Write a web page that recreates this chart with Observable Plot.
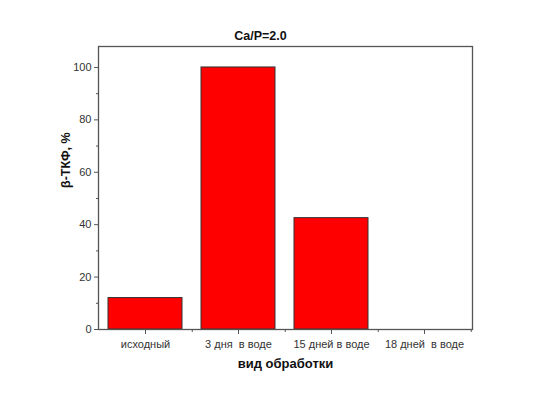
<!DOCTYPE html>
<html><head><meta charset="utf-8">
<script src="https://cdn.jsdelivr.net/npm/d3@7"></script>
<script src="https://cdn.jsdelivr.net/npm/@observablehq/plot@0.6"></script>
<style>body{margin:0;background:#fff}</style>
</head><body><div id="chart"></div>
<script>
const categories = ["исходный", "3 дня  в воде", "15 дней в воде", "18 дней  в воде"];
const values = [12, 100, 42.5, 0];
const yMajorTicks = [0, 20, 40, 60, 80, 100];
const yMinorTicks = [10, 30, 50, 70, 90];
const title = "Ca/P=2.0";
const xLabel = "вид обработки";
const yLabel = "β-ТКФ, %";

const data = categories.map((c, i) => ({cat: c, value: values[i]}));
const W = 548, H = 395, mL = 98, mR = 76, mT = 46, mB = 66;
const halfBand = (W - mL - mR) / categories.length / 2;
const axisColor = "#555";
const font = "Liberation Sans, Arial, sans-serif";

const chart = Plot.plot({
  width: W, height: H,
  marginLeft: mL, marginRight: mR, marginTop: mT, marginBottom: mB,
  style: {fontFamily: font, fontSize: "11px", color: "#333", background: "#fff"},
  x: {domain: categories, paddingInner: 0.2, paddingOuter: 0.1, label: null},
  y: {domain: [0, 108], label: null},
  marks: [
    Plot.barY(data, {x: "cat", y: "value", fill: "#ff0000", stroke: "#333", strokeWidth: 1}),
    Plot.frame({stroke: axisColor, strokeWidth: 1.3}),
    Plot.axisY({ticks: yMajorTicks, tickSize: 4, tickPadding: 3, stroke: axisColor, fill: "#333", fontSize: 11}),
    Plot.axisY({ticks: yMinorTicks, tickSize: 2, text: null, stroke: axisColor}),
    Plot.axisX({tickSize: 5, tickPadding: 6, stroke: axisColor, fill: "#333", fontSize: 11}),
    Plot.ruleX(categories, {x: d => d, y1: 0, y2: 0, dx: halfBand, insetBottom: -3, stroke: axisColor}),
    Plot.text([title], {frameAnchor: "top", dx: -25, dy: -15, fontWeight: "bold", fontSize: 12.5, fill: "#111"}),
    Plot.text([xLabel], {frameAnchor: "bottom", dy: 38, fontWeight: "bold", fontSize: 13, fill: "#111"}),
    Plot.text([yLabel], {frameAnchor: "left", dx: -33, rotate: -90, fontWeight: "bold", fontSize: 12.5, fill: "#111"})
  ]
});
document.getElementById("chart").append(chart);
</script>
</body></html>
